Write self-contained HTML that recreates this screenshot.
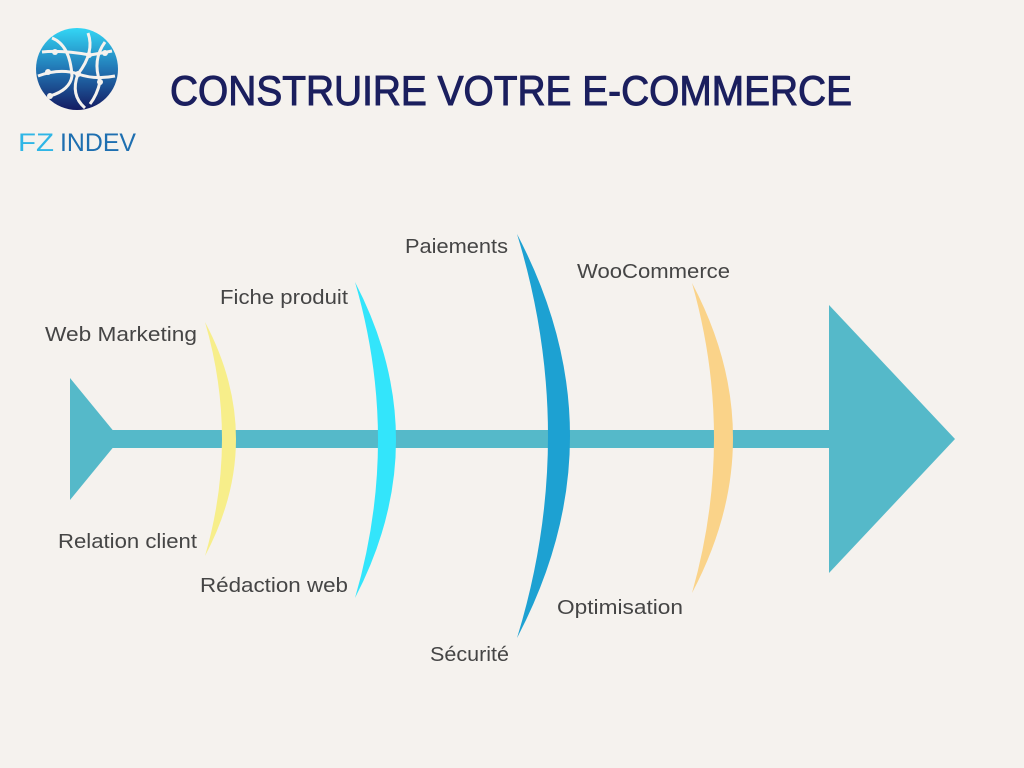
<!DOCTYPE html>
<html><head><meta charset="utf-8"><style>
html,body{margin:0;padding:0;background:#F5F2EE;}
svg{display:block}
</style></head><body>
<svg width="1024" height="768" viewBox="0 0 1024 768" xmlns="http://www.w3.org/2000/svg">
<rect width="1024" height="768" fill="#F5F2EE"/>
<defs>
<linearGradient id="g" x1="0" y1="0" x2="0" y2="1">
<stop offset="0" stop-color="#33D6F5"/><stop offset="0.5" stop-color="#2277B5"/><stop offset="1" stop-color="#141B62"/>
</linearGradient>
</defs>
<circle cx="77" cy="69" r="41" fill="url(#g)"/>
<g stroke="#F5F2EE" stroke-width="3" fill="none">
<path d="M38 76 Q60 68 78 74 Q95 80 115 76"/>
<path d="M42 52 Q62 50 90 55 Q102 53 112 51"/>
<path d="M52 38 Q70 45 72 76 Q70 90 50 96"/>
<path d="M88 33 Q95 52 78 74 Q70 95 85 108"/>
<path d="M105 42 Q92 60 100 82 Q97 95 90 104"/>
</g>
<g fill="#F5F2EE"><circle cx="55" cy="52" r="3"/><circle cx="89" cy="55" r="3"/><circle cx="105" cy="53" r="3"/><circle cx="48" cy="72" r="3"/><circle cx="78" cy="74" r="3"/><circle cx="100" cy="82" r="3"/><circle cx="50" cy="96" r="3"/></g>
<text x="18" y="151" font-family="Liberation Sans, sans-serif" font-size="25" fill="#2FB6E6" textLength="36" lengthAdjust="spacingAndGlyphs">FZ</text>
<text x="60" y="151" font-family="Liberation Sans, sans-serif" font-size="25" fill="#1E6FB0" textLength="76" lengthAdjust="spacingAndGlyphs">INDEV</text>
<text x="170" y="105" font-family="Liberation Sans, sans-serif" font-size="42" stroke="#1B1F5E" stroke-width="1" fill="#1B1F5E" textLength="682" lengthAdjust="spacingAndGlyphs">CONSTRUIRE VOTRE E-COMMERCE</text>
<rect x="70" y="430" width="770" height="18" fill="#55B9C9"/>
<polygon points="70,378 70,500 120,439" fill="#55B9C9"/>
<polygon points="829,305 829,573 955,439" fill="#55B9C9"/>
<path d="M205,322 Q267,439 205,556 Q239,439 205,322Z" fill="#F7EE8A"/>
<path d="M355,282 Q437,440 355,598 Q401,440 355,282Z" fill="#33E5FB"/>
<path d="M517,234 Q623,436 517,638 Q579,436 517,234Z" fill="#1DA1D2"/>
<path d="M692,283 Q774,438 692,593 Q736,438 692,283Z" fill="#FAD389"/>
<g font-family="Liberation Sans, sans-serif" font-size="20" fill="#454545" lengthAdjust="spacingAndGlyphs">
<text x="45" y="341" textLength="152" lengthAdjust="spacingAndGlyphs">Web Marketing</text>
<text x="58" y="548" textLength="139" lengthAdjust="spacingAndGlyphs">Relation client</text>
<text x="220" y="304" textLength="128" lengthAdjust="spacingAndGlyphs">Fiche produit</text>
<text x="200" y="592" textLength="148" lengthAdjust="spacingAndGlyphs">Rédaction web</text>
<text x="405" y="253" textLength="103" lengthAdjust="spacingAndGlyphs">Paiements</text>
<text x="430" y="661" textLength="79" lengthAdjust="spacingAndGlyphs">Sécurité</text>
<text x="577" y="278" textLength="153" lengthAdjust="spacingAndGlyphs">WooCommerce</text>
<text x="557" y="614" textLength="126" lengthAdjust="spacingAndGlyphs">Optimisation</text>
</g>
</svg>
</body></html>
